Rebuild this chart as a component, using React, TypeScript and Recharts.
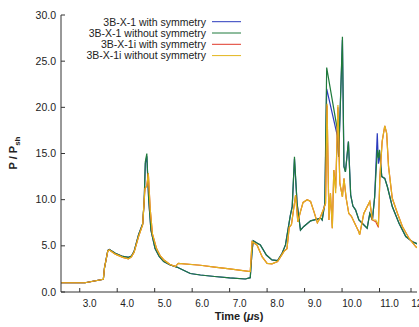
import React from 'react';
import { LineChart, Line, XAxis, YAxis } from 'recharts';

// time axis (µs) and P/Psh values
const TIME_X1 = [
  2.5, 3.14, 3.63, 3.66, 3.75, 3.79, 3.95, 4.15, 4.3, 4.38, 4.45, 4.57, 4.68, 4.72, 4.75, 4.79, 4.84, 4.9,
  5.01, 5.12, 5.24, 5.4, 5.59, 5.95, 6.22, 6.6, 7.0, 7.42, 7.55, 7.6, 7.63, 7.73, 7.82, 7.98, 8.13, 8.28,
  8.4, 8.49, 8.62, 8.67, 8.73, 8.8, 8.89, 8.98, 9.16, 9.34, 9.43, 9.47, 9.54, 9.59, 9.87, 9.91, 10.01,
  10.05, 10.09, 10.17, 10.23, 10.29, 10.36, 10.45, 10.67, 10.74, 10.81, 10.87, 10.94, 10.97, 11.0, 11.06,
  11.14, 11.21, 11.34, 11.52, 11.7, 11.88, 11.98, 12.0,
];
const X1_WITH_SYM = [
  1.0, 1.0, 1.37, 2.6, 4.5, 4.6, 4.2, 3.85, 3.75, 3.9, 4.4, 6.2, 7.4, 9.8, 13.9, 14.7, 10.0, 6.7,
  4.7, 3.85, 3.3, 2.95, 2.7, 2.0, 1.84, 1.68, 1.52, 1.41, 1.55, 4.5, 5.55, 5.3, 5.1, 4.0, 3.47, 3.4,
  4.2, 5.1, 8.3, 9.25, 14.4, 9.6, 6.7, 7.1, 7.7, 7.9, 8.0, 7.8, 9.6, 22.0, 17.0, 14.65, 27.3,
  13.6, 13.0, 16.3, 10.5, 9.3, 8.9, 7.8, 6.9, 8.5, 7.8, 10.3, 17.2, 13.9, 15.0, 12.5,
  12.3, 11.4, 9.25, 7.45, 6.0, 5.45, 5.27, 5.2,
];
const X1_WITHOUT_SYM = [
  1.0, 1.0, 1.37, 2.6, 4.5, 4.6, 4.2, 3.85, 3.75, 3.9, 4.4, 6.2, 7.4, 10.0, 14.1, 15.0, 10.0, 6.7,
  4.7, 3.85, 3.3, 2.95, 2.7, 2.0, 1.84, 1.68, 1.52, 1.41, 1.55, 4.5, 5.55, 5.3, 5.1, 4.0, 3.47, 3.4,
  4.2, 5.1, 8.3, 9.25, 14.65, 9.6, 6.7, 7.1, 7.7, 7.9, 8.0, 7.8, 9.6, 24.3, 17.7, 14.65, 27.65,
  13.6, 13.0, 16.3, 10.5, 9.3, 8.9, 7.8, 6.9, 8.5, 7.8, 10.3, 15.4, 14.5, 15.4, 12.5,
  12.3, 11.4, 9.25, 7.45, 6.0, 5.45, 5.27, 5.2,
];

const TIME_X1I = [
  2.5, 3.14, 3.63, 3.66, 3.75, 3.79, 3.95, 4.15, 4.3, 4.38, 4.45, 4.57, 4.68, 4.74, 4.79, 4.83, 4.88, 4.94,
  5.05, 5.15, 5.24, 5.4, 5.55, 5.63, 6.22, 6.6, 7.0, 7.55, 7.6, 7.73, 7.87, 8.0, 8.13, 8.28, 8.45, 8.53,
  8.59, 8.65, 8.76, 8.82, 8.89, 8.96, 9.07, 9.16, 9.25, 9.34, 9.41, 9.5, 9.56, 9.6, 9.65, 9.69, 9.74,
  9.78, 9.83, 9.89, 9.94, 10.01, 10.05, 10.11, 10.18, 10.25, 10.36, 10.45, 10.47, 10.58, 10.74, 10.81,
  10.9, 10.97, 11.01, 11.07, 11.14, 11.19, 11.24, 11.34, 11.48, 11.61, 11.79, 11.97, 12.0,
];
const X1I_WITH_SYM = [
  1.0, 1.0, 1.37, 2.6, 4.45, 4.55, 4.1, 3.75, 3.6, 3.8, 4.3, 6.0, 7.3, 11.2, 11.5, 12.85, 9.0, 6.3,
  4.7, 3.9, 3.5, 3.0, 2.75, 3.1, 2.9, 2.7, 2.5, 2.2, 5.45, 5.1, 3.8, 3.1, 3.05, 3.3, 4.4, 4.7,
  7.0, 7.3, 10.5, 7.6, 8.7, 9.7, 10.0, 9.8, 8.7, 7.5, 8.0, 8.9, 9.6, 20.2, 7.8, 10.7, 6.9,
  13.2, 11.2, 20.0, 11.8, 10.3, 12.3, 10.15, 8.5, 8.2, 7.25, 6.5, 6.2, 8.5, 9.8, 7.8,
  7.6, 7.0, 12.5, 16.3, 18.0, 17.2, 13.6, 10.15, 8.5, 7.1, 5.8, 4.9, 4.8,
];
const X1I_WITHOUT_SYM = [
  1.0, 1.0, 1.37, 2.6, 4.45, 4.55, 4.1, 3.75, 3.6, 3.8, 4.3, 6.0, 7.3, 11.2, 11.5, 12.85, 9.0, 6.3,
  4.7, 3.9, 3.5, 3.0, 2.75, 3.1, 2.9, 2.7, 2.5, 2.2, 5.45, 5.1, 3.8, 3.1, 3.05, 3.3, 4.4, 4.7,
  7.0, 7.3, 10.5, 7.6, 8.7, 9.7, 10.0, 9.8, 8.7, 7.5, 8.0, 8.9, 9.6, 20.4, 7.8, 10.7, 6.9,
  13.2, 10.7, 20.25, 11.8, 10.3, 12.3, 10.15, 8.5, 8.2, 7.25, 6.5, 6.2, 8.5, 9.8, 7.8,
  7.8, 7.25, 12.5, 16.3, 18.0, 17.2, 13.6, 10.15, 8.5, 7.1, 5.8, 4.9, 4.8,
];

const X_TICKS = [3, 4, 5, 6, 7, 8, 9, 10, 11, 12];
const Y_TICKS = [0, 5, 10, 15, 20, 25, 30];

const SERIES = [
  { name: '3B-X-1 with symmetry', time: TIME_X1, values: X1_WITH_SYM, color: '#2b3bbd' },
  { name: '3B-X-1 without symmetry', time: TIME_X1, values: X1_WITHOUT_SYM, color: '#1f7a3c' },
  { name: '3B-X-1i with symmetry', time: TIME_X1I, values: X1I_WITH_SYM, color: '#e0392a' },
  { name: '3B-X-1i without symmetry', time: TIME_X1I, values: X1I_WITHOUT_SYM, color: '#e3b51c' },
];

const FONT = '"Liberation Sans", Arial, sans-serif';
const INK = '#333';

const BottomTick = (props: any) => {
  const { x, y, payload } = props;
  return (
    <g>
      <line x1={x} x2={x} y1={y} y2={y - 4} stroke={INK} />
      <text x={x + 10} y={y + 15} textAnchor="middle" fontSize={10} fill="#222" fontFamily={FONT}>
        {payload.value.toFixed(1)}
      </text>
    </g>
  );
};

const TopTick = (props: any) => {
  const { x, y } = props;
  return <line x1={x} x2={x} y1={y} y2={y + 4} stroke={INK} />;
};

const LeftTick = (props: any) => {
  const { x, y, payload } = props;
  return (
    <g>
      <line x1={x} x2={x + 4} y1={y} y2={y} stroke={INK} />
      <text x={x - 5} y={y + 3.5} textAnchor="end" fontSize={10.5} fill="#222" fontFamily={FONT}>
        {payload.value.toFixed(1)}
      </text>
    </g>
  );
};

const RightTick = (props: any) => {
  const { x, y } = props;
  return <line x1={x} x2={x - 4} y1={y} y2={y} stroke={INK} />;
};

export default function App() {
  return (
    <div style={{ position: 'absolute', left: 0, top: 0, width: 419, height: 327, background: '#fff' }}>
      <LineChart width={419} height={327} margin={{ top: 15, right: 2, bottom: 0, left: 0 }}>
        <XAxis
          xAxisId="b"
          type="number"
          dataKey="t"
          domain={[2.5, 12]}
          ticks={X_TICKS}
          height={35}
          tickSize={0}
          tickMargin={0}
          tickLine={false}
          axisLine={{ stroke: INK }}
          tick={<BottomTick />}
          allowDataOverflow
        />
        <XAxis
          xAxisId="t"
          orientation="top"
          type="number"
          dataKey="t"
          domain={[2.5, 12]}
          ticks={X_TICKS}
          height={0}
          tickSize={0}
          tickMargin={0}
          tickLine={false}
          axisLine={{ stroke: INK }}
          tick={<TopTick />}
          allowDataOverflow
        />
        <YAxis
          yAxisId="l"
          type="number"
          domain={[0, 30]}
          ticks={Y_TICKS}
          width={61}
          tickSize={0}
          tickMargin={0}
          tickLine={false}
          axisLine={{ stroke: INK }}
          tick={<LeftTick />}
        />
        <YAxis
          yAxisId="r"
          orientation="right"
          type="number"
          domain={[0, 30]}
          ticks={Y_TICKS}
          width={0}
          tickSize={0}
          tickMargin={0}
          tickLine={false}
          axisLine={{ stroke: INK }}
          tick={<RightTick />}
        />
        {SERIES.map((s) => (
          <Line
            key={s.name}
            xAxisId="b"
            yAxisId="l"
            data={s.time.map((t, i) => ({ t, p: s.values[i] }))}
            dataKey="p"
            name={s.name}
            stroke={s.color}
            strokeWidth={1.2}
            dot={false}
            type="linear"
            isAnimationActive={false}
          />
        ))}
        <g fontFamily={FONT} fontSize={10.5} fill="#222">
          {SERIES.map((s, i) => (
            <g key={s.name}>
              <text x={206} y={25.5 + i * 11.3} textAnchor="end">{s.name}</text>
              <line x1={212} x2={241} y1={21.7 + i * 11.3} y2={21.7 + i * 11.3} stroke={s.color} />
            </g>
          ))}
        </g>
        <text x={239} y={320} textAnchor="middle" fontSize={11} fontWeight="bold" fill="#222" fontFamily={FONT}>
          Time (<tspan fontStyle="italic">μ</tspan>s)
        </text>
        <text
          transform="rotate(-90)"
          x={-153}
          y={17}
          textAnchor="middle"
          fontSize={11}
          fontWeight="bold"
          fill="#222"
          fontFamily={FONT}
        >
          P / P<tspan dy={2.5} fontSize={8}>sh</tspan>
        </text>
      </LineChart>
    </div>
  );
}
